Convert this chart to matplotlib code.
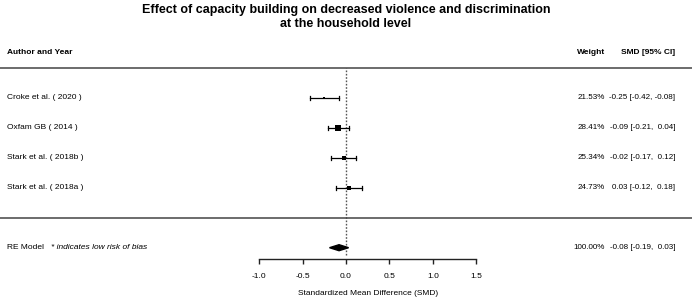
import matplotlib
matplotlib.use("Agg")
import matplotlib.pyplot as plt
from matplotlib.patches import Polygon
import numpy as np

plt.rcParams['font.family'] = ['Liberation Sans', 'DejaVu Sans']

# ---- data ----
studies = ["Croke et al. ( 2020 )", "Oxfam GB ( 2014 )", "Stark et al. ( 2018b )", "Stark et al. ( 2018a )"]
smd = [-0.25, -0.09, -0.02, 0.03]
ci_low = [-0.42, -0.21, -0.17, -0.12]
ci_high = [-0.08, 0.04, 0.12, 0.18]
weights = [21.53, 28.41, 25.34, 24.73]
re_est, re_low, re_high = -0.08, -0.19, 0.03
re_weight = 100.00
xticks = [-1.0, -0.5, 0.0, 0.5, 1.0, 1.5]

W, H, DPI = 692, 300, 100
fig = plt.figure(figsize=(W / DPI, H / DPI), dpi=DPI)
ax = fig.add_axes([0, 0, 1, 1])

PXU = 86.8   # px per SMD unit
X0 = 346.0   # px of zero
ROW = 30.0   # px per row
Y4 = 97.7    # px of top study row (row 4)
ax.set_xlim(-X0 / PXU, (W - X0) / PXU)
ax.set_ylim(4 - (H - Y4) / ROW, 4 + Y4 / ROW)

k = len(studies)
rows = np.arange(k, 0, -1)
axis_row = 4 - (259 - Y4) / ROW

fs = 6.0
fs_w = 5.8
fs_ci = 5.8
x_left = -X0 / PXU + 7 / PXU
x_weight = (605 - X0) / PXU
x_smd = (675 - X0) / PXU
header_row = 4 + (97.7 - 52) / ROW

# header
ax.text(x_left, header_row, "Author and Year", fontsize=fs, fontweight='bold', ha='left', va='center')
ax.text(x_weight, header_row, "Weight", fontsize=fs, fontweight='bold', ha='right', va='center')
ax.text(x_smd, header_row, "SMD [95% CI]", fontsize=fs, fontweight='bold', ha='right', va='center')

# horizontal separator lines
ax.axhline(k + 1, color='#444444', lw=1.1)
ax.axhline(0, color='#444444', lw=1.1)

# reference line
ax.plot([0, 0], [axis_row + 0.12, k + 1], color='#555555', lw=1.0, ls=(0, (1.2, 1.2)), zorder=1)

# studies
wmin, wmax = min(weights), max(weights)
cap = 2.0 / ROW
for r, name, m, lo, hi, w in zip(rows, studies, smd, ci_low, ci_high, weights):
    ax.plot([lo, hi], [r, r], color='black', lw=0.9, zorder=3)
    ax.plot([lo, lo], [r - cap, r + cap], color='black', lw=0.9, zorder=3)
    ax.plot([hi, hi], [r - cap, r + cap], color='black', lw=0.9, zorder=3)
    side_px = 4.0 * (0.5 + (w - wmin) / (wmax - wmin))
    ax.plot([m], [r], marker='s', color='black', ms=side_px * 72 / DPI, mew=0, zorder=4)
    ax.text(x_left, r, name, fontsize=fs, ha='left', va='center')
    ax.text(x_weight, r, f"{w:.2f}%", fontsize=fs_w, ha='right', va='center')
    ax.text(x_smd, r, f"{m:.2f} [{lo:.2f}, {hi:5.2f}]", fontsize=fs_ci, ha='right', va='center')

# RE model
rr = -1
dh = 3.0 / ROW
ax.add_patch(Polygon([[re_low, rr], [re_est, rr + dh], [re_high, rr], [re_est, rr - dh]],
                     closed=True, color='black', zorder=4))
ax.text(x_left, rr, "RE Model", fontsize=fs, ha='left', va='center')
ax.text((51 - X0) / PXU, rr, "* indicates low risk of bias", fontsize=fs, style='italic', ha='left', va='center')
ax.text(x_weight, rr, f"{re_weight:.2f}%", fontsize=fs_w, ha='right', va='center')
ax.text(x_smd, rr, f"{re_est:.2f} [{re_low:.2f}, {re_high:5.2f}]", fontsize=fs_ci, ha='right', va='center')

# x axis
for s in ['top', 'left', 'right']:
    ax.spines[s].set_visible(False)
ax.spines['bottom'].set_position(('data', axis_row))
ax.spines['bottom'].set_bounds(xticks[0], xticks[-1])
ax.spines['bottom'].set_color('#222222')
ax.spines['bottom'].set_linewidth(1.0)
ax.set_xticks(xticks)
ax.set_xticklabels([f"{t:.1f}" for t in xticks], fontsize=fs)
ax.tick_params(axis='x', direction='out', length=3.5, width=1.0, pad=6.5, colors='#222222')
ax.tick_params(axis='x', labelcolor='black')
ax.set_yticks([])
ax.text((xticks[0] + xticks[-1]) / 2, 4 - (293.5 - Y4) / ROW, "Standardized Mean Difference (SMD)",
        fontsize=fs, ha='center', va='center')

# title
fig.text(0.5, 1 - 17 / H, "Effect of capacity building on decreased violence and discrimination\nat the household level",
         fontsize=9, fontweight='bold', ha='center', va='center', linespacing=1.2)

fig.savefig("out.png", dpi=DPI)
